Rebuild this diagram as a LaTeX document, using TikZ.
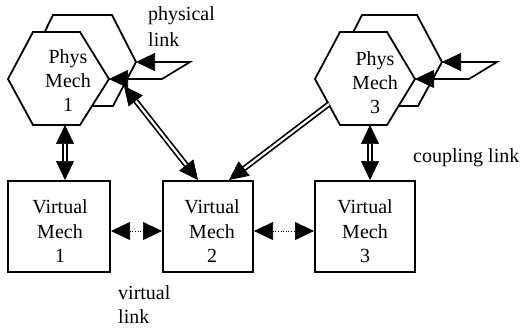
\documentclass[tikz,border=0pt]{standalone}
\usepackage{fontspec}
\setmainfont{Liberation Serif}
\usetikzlibrary{arrows.meta}
\begin{document}
\begin{tikzpicture}[x=1pt,y=-1pt,
  vtip/.tip={Triangle[length=19pt,width=18pt,line width=0.6pt]},
  hexline/.style={draw=black, line width=1.8pt, line join=miter, fill=white},
  lbl/.style={font=\fontsize{20}{24}\selectfont, inner sep=0pt, align=center},
  boxlbl/.style={lbl, font=\fontsize{20}{24.5}\selectfont},
  box/.style={draw=black, line width=2pt, fill=white, minimum height=91pt, inner sep=0pt},
  dbl/.style={draw=black, line width=1.7pt, double=white, double distance=2.2pt},
  plink/.style={draw=black, line width=1.7pt, line join=miter},
  vlink/.style={draw=black, line width=1pt, dash pattern=on 1pt off 1.6pt}
]
\useasboundingbox (0,0) rectangle (521,331);

% back hexagons
\coordinate (b1TL) at (53,15);  \coordinate (b1TR) at (112,15);
\coordinate (b1R)  at (136,62); \coordinate (b1BR) at (113,106);
\coordinate (b1BL) at (53,106); \coordinate (b1L)  at (30,62);
\draw[hexline] (b1TL) -- (b1TR) -- (b1R) -- (b1BR) -- (b1BL) -- (b1L) -- cycle;

\coordinate (b3TL) at (362,15);  \coordinate (b3TR) at (417,15);
\coordinate (b3R)  at (442,62);  \coordinate (b3BR) at (418,106);
\coordinate (b3BL) at (362,106); \coordinate (b3L)  at (338,62);
\draw[hexline] (b3TL) -- (b3TR) -- (b3R) -- (b3BR) -- (b3BL) -- (b3L) -- cycle;

% front hexagons
\coordinate (f1L)  at (8,79);   \coordinate (f1TL) at (33,32);
\coordinate (f1TR) at (80,32);  \coordinate (f1R)  at (109,79);
\coordinate (f1BR) at (80,125); \coordinate (f1BL) at (33,125);
\draw[hexline] (f1L) -- (f1TL) -- (f1TR) -- (f1R) -- (f1BR) -- (f1BL) -- cycle;

\coordinate (f3L)  at (315,79);  \coordinate (f3TL) at (340,32);
\coordinate (f3TR) at (387,32);  \coordinate (f3R)  at (415,79);
\coordinate (f3BR) at (387,125); \coordinate (f3BL) at (340,125);
\draw[hexline] (f3L) -- (f3TL) -- (f3TR) -- (f3R) -- (f3BR) -- (f3BL) -- cycle;

\node[lbl, anchor=north] (p1) at (68,49.5) {Phys\\Mech\\1};
\node[lbl, anchor=north] (p3) at (375,51) {Phys\\Mech\\3};

% virtual mechanism boxes
\node[box, minimum width=102pt] (v1) at (59,226.5) {};
\node[box, minimum width=90pt]  (v2) at (208,226.5) {};
\node[box, minimum width=100pt] (v3) at (365,226.5) {};
\node[boxlbl, anchor=north] (t1) at (60,199.5) {Virtual\\Mech\\1};
\node[boxlbl, anchor=north] (t2) at (212,199.5) {Virtual\\Mech\\2};
\node[boxlbl, anchor=north] (t3) at (365,199.5) {Virtual\\Mech\\3};

% physical links
\coordinate (pl1a) at (190,62); \coordinate (pl1b) at (162,79);
\draw[plink, vtip-vtip] (b1R) -- (pl1a) -- (pl1b) -- (f1R);
\coordinate (pl3a) at (497,62); \coordinate (pl3b) at (469,79);
\draw[plink, vtip-vtip] (b3R) -- (pl3a) -- (pl3b) -- (f3R);

% coupling links
\coordinate (c1a) at (65,125);  \coordinate (c1x) at (65,0);
\draw[dbl, vtip-vtip] (c1a) -- (v1.north -| c1x);
\coordinate (c3a) at (370,125); \coordinate (c3x) at (370,0);
\draw[dbl, vtip-vtip] (c3a) -- (v3.north -| c3x);

% diagonal links to virtual mech 2
\coordinate (d1a) at (124,86);  \coordinate (d1x) at (198,0);
\draw[dbl, vtip-vtip] (d1a) -- (v2.north -| d1x);
\coordinate (d3a) at (329,104); \coordinate (d3x) at (229,0);
\draw[dbl, -vtip] (d3a) -- (v2.north -| d3x);

% virtual links
\coordinate (vl) at (0,231);
\draw[vlink, vtip-vtip] (v1.east |- vl) -- (v2.west |- vl);
\draw[vlink, vtip-vtip] (v2.east |- vl) -- (v3.west |- vl);

% labels
\node[lbl, align=left, anchor=north west, font=\fontsize{20}{26}\selectfont] (plbl) at (148,6) {physical\\link};
\node[lbl, anchor=base west] (clbl) at (413,162) {coupling link};
\node[lbl, align=left, anchor=north west] (vlbl) at (118,285.5) {virtual\\link};
\end{tikzpicture}
\end{document}
